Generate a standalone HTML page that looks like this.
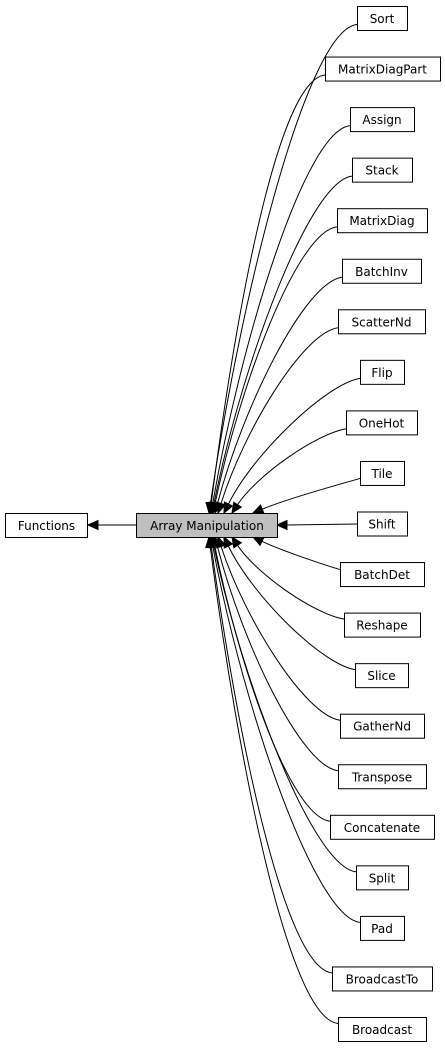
<!DOCTYPE html>
<html><head><style>
body{margin:0;background:#fff;width:445px;height:1051px;overflow:hidden}
svg{position:absolute;left:0;top:0}
text{font-family:"DejaVu Sans","Liberation Sans",sans-serif;font-size:12px;fill:#000}
</style></head><body>
<svg id="s" width="445" height="1051" xmlns="http://www.w3.org/2000/svg"></svg>
<script>
var boxes=[["Sort",357,407],["MatrixDiagPart",325,440],["Assign",350,414],["Stack",352,412],["MatrixDiag",337,427],["BatchInv",342,421],["ScatterNd",338,425],["Flip",360,404],["OneHot",346,417],["Tile",360,404],["Shift",357,407],["BatchDet",340,424],["Reshape",344,420],["Slice",355,408],["GatherNd",340,424],["Transpose",338,426],["Concatenate",330,434],["Split",356,408],["Pad",360,404],["BroadcastTo",332,432],["Broadcast",338,426]];
var tipX=[0,253,232,224,218,215,213,212,211,210,209];
var h='';
function arrow(tx,ty,dx,dy){var l=Math.hypot(dx,dy);dx/=l;dy/=l;var bx=tx-dx*10,by=ty-dy*10,px=-dy*4.5,py=dx*4.5;
return '<polygon points="'+tx+','+ty+' '+(bx+px)+','+(by+py)+' '+(bx-px)+','+(by-py)+'" fill="#000" stroke="#000"/>';}
boxes.forEach(function(b,i){
 var yc=18.5+i*50.55, x0=b[1];
 if(i==10){h+='<line x1="'+x0+'" y1="'+yc+'" x2="287" y2="525" stroke="#000"/>'+arrow(277,525,-1,0);return;}
 var top=i<10, k=top?(10-i):(i-10);
 var d=top?1:-1;
 var sx0=x0, sy0=yc+d*(k==1?5:6);
 var tx=tipX[k], ty=top?513:537;
 var c1x=sx0-(k==1?10:25+k*2.5), c1y=sy0+d*(k==1?3:5);
 var c2x=tx+(sx0-tx)*(k==1?0.35:0.22), c2y=ty+(sy0-ty)*0.45;
 var dx=tx-c2x, dy=ty-c2y, l=Math.hypot(dx,dy);
 var ex=tx-dx/l*10, ey=ty-dy/l*10;
 h+='<path d="M'+sx0+','+sy0+' C'+c1x+','+c1y+' '+c2x+','+c2y+' '+ex+','+ey+'" fill="none" stroke="#000"/>'+arrow(tx,ty,dx,dy);
});
boxes.forEach(function(b,i){var yc=18.5+i*50.55;
 h+='<rect x="'+b[1]+'.5" y="'+(yc-12)+'" width="'+(b[2]-b[1])+'" height="24" fill="#fff" stroke="#000"/>';
 h+='<text x="'+((b[1]+b[2])/2)+'" y="'+(yc+4.5)+'" text-anchor="middle">'+b[0]+'</text>';});
h+='<line x1="136" y1="525" x2="98" y2="525" stroke="#000"/>'+arrow(88,525,-1,0);
h+='<rect x="5.5" y="513.5" width="82" height="24" fill="#fff" stroke="#000"/><text x="46.5" y="530" text-anchor="middle">Functions</text>';
h+='<rect x="136.5" y="513.5" width="141" height="24" fill="#bfbfbf" stroke="#000"/><text x="207" y="530" text-anchor="middle">Array Manipulation</text>';
document.getElementById('s').innerHTML=h;
</script>
</body></html>
